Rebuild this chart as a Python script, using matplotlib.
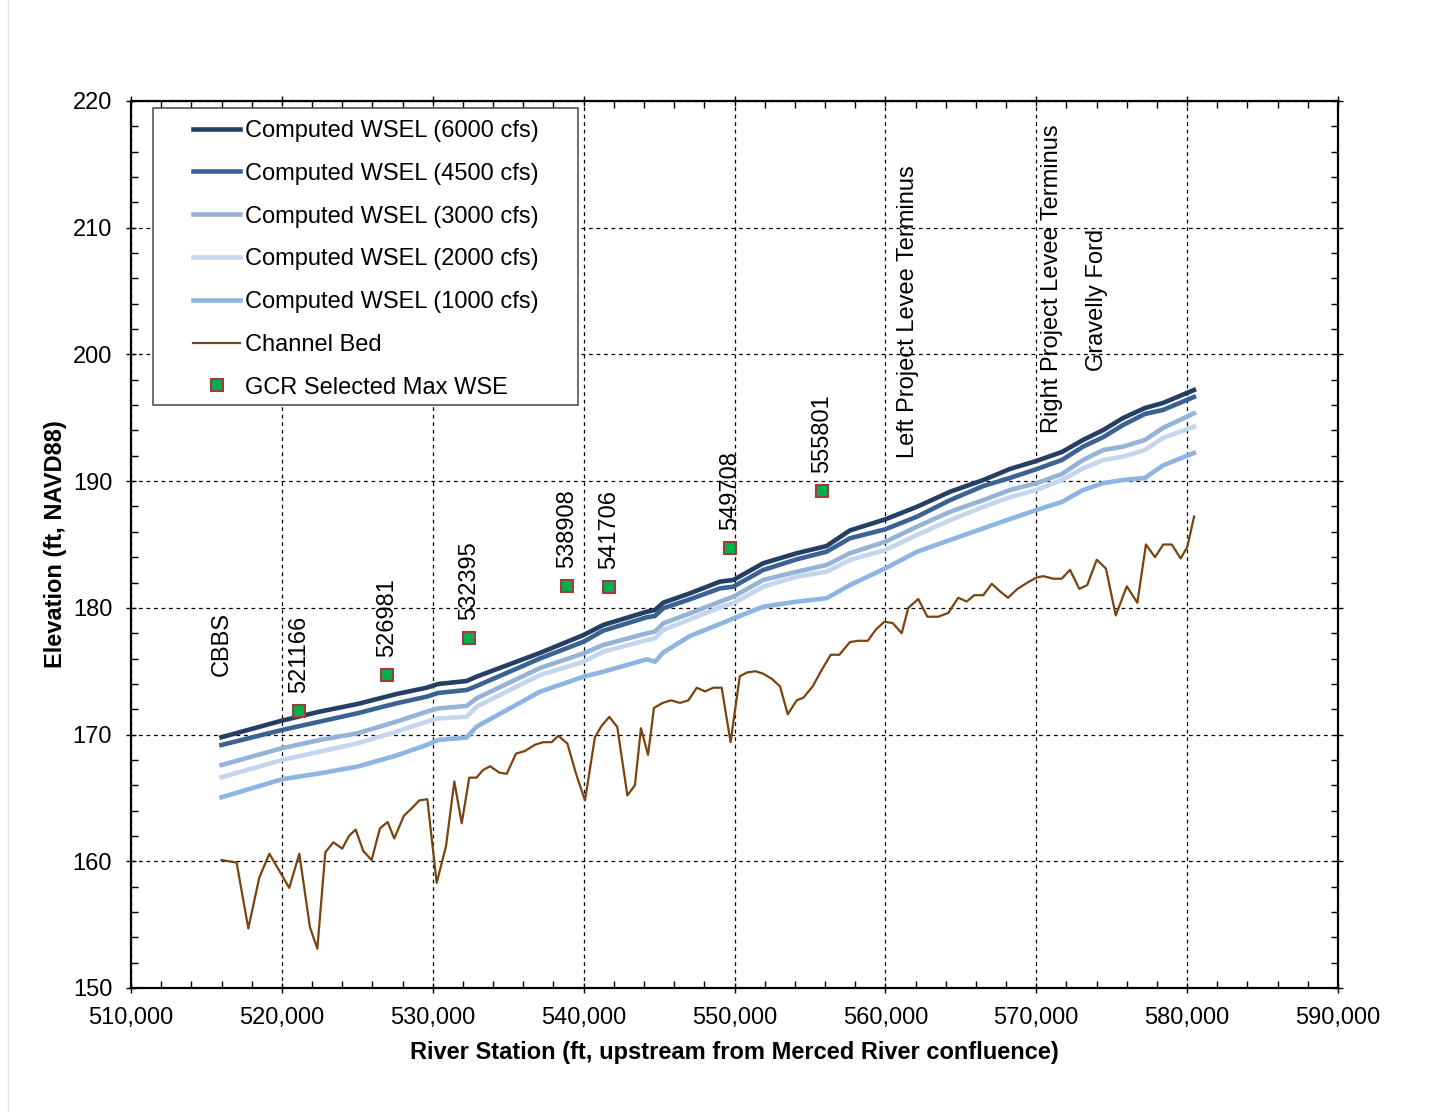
import numpy as np
import matplotlib.pyplot as plt
from matplotlib.ticker import MultipleLocator, FuncFormatter
from matplotlib.patches import Rectangle
from matplotlib.lines import Line2D

plt.rcParams['font.family'] = ['Liberation Sans', 'DejaVu Sans']

# channel bed profile
bed_x = [516000, 517000, 517775, 518500, 519170, 520490, 521155, 521860, 522350, 522880,
         523410, 524000, 524450, 524890, 525400, 525950, 526500, 527010, 527450, 528090,
         528620, 529110, 529640, 530260, 530880, 531430, 531920, 532420, 532900, 533330,
         533800, 534410, 534900, 535520, 536110, 536780, 537330, 537880, 538320, 538920,
         539500, 540090, 540750, 541200, 541700, 542230, 542900, 543400, 543800, 544270,
         544660, 545240, 545790, 546390, 546940, 547500, 548050, 548600, 549150, 549740,
         550350, 550830, 551390, 551910, 552470, 553020, 553530, 554120, 554560, 555180,
         555780, 556380, 556950, 557650, 558200, 558830, 559380, 559930, 560490, 561080,
         561520, 562180, 562780, 563510, 564170, 564830, 565390, 565890, 566490, 567050,
         567600, 568130, 568760, 569420, 570030, 570470, 571130, 571690, 572240, 572850,
         573380, 574010, 574620, 575270, 576000, 576700, 577270, 577870, 578420, 578980,
         579570, 580010, 580460]
bed_y = [160.1, 159.9, 154.7, 158.7, 160.6, 157.9, 160.6, 154.8, 153.1, 160.7,
         161.5, 161.0, 162.0, 162.5, 160.8, 160.1, 162.6, 163.1, 161.8, 163.6,
         164.2, 164.8, 164.9, 158.3, 161.2, 166.3, 163.0, 166.6, 166.6, 167.2,
         167.5, 167.0, 166.9, 168.5, 168.7, 169.2, 169.4, 169.4, 169.9, 169.3,
         166.9, 164.8, 169.8, 170.7, 171.4, 170.6, 165.2, 166.0, 170.5, 168.4,
         172.1, 172.5, 172.7, 172.5, 172.7, 173.7, 173.4, 173.7, 173.7, 169.4,
         174.6, 174.9, 175.0, 174.8, 174.4, 173.8, 171.6, 172.7, 172.9, 173.8,
         175.1, 176.3, 176.3, 177.3, 177.4, 177.4, 178.3, 178.9, 178.8, 178.0,
         180.0, 180.7, 179.3, 179.3, 179.6, 180.8, 180.5, 181.0, 181.0, 181.9,
         181.3, 180.8, 181.5, 182.0, 182.4, 182.5, 182.3, 182.3, 183.0, 181.5,
         181.8, 183.8, 183.1, 179.4, 181.7, 180.4, 185.0, 184.0, 185.0, 185.0,
         183.9, 184.8, 187.2]

# computed water surface elevations
wsel_x = [516000, 520000, 522500, 525000, 527600, 529600, 530350, 532250, 532900, 537100,
          540000, 541300, 544200, 544730, 545280, 547050, 549040, 549920, 551900, 554120,
          556100, 557650, 560000, 562100, 564300, 566500, 568250, 570000, 571700, 573100,
          574450, 575750, 577200, 578400, 580450]
wsel_6000 = [169.79, 171.10, 171.81, 172.41, 173.20, 173.70, 173.99, 174.23, 174.57, 176.44,
             177.86, 178.65, 179.70, 179.83, 180.41, 181.15, 182.07, 182.20, 183.52, 184.31,
             184.88, 186.11, 186.99, 187.98, 189.17, 190.09, 190.96, 191.59, 192.30, 193.25,
             194.04, 194.98, 195.77, 196.17, 197.19]
wsel_4500 = [169.18, 170.36, 171.02, 171.68, 172.47, 172.99, 173.28, 173.52, 173.83, 176.00,
             177.33, 178.20, 179.26, 179.36, 179.97, 180.68, 181.54, 181.67, 182.99, 183.83,
             184.43, 185.49, 186.20, 187.20, 188.51, 189.62, 190.25, 190.94, 191.67, 192.72,
             193.48, 194.43, 195.30, 195.62, 196.64]
wsel_3000 = [167.60, 168.92, 169.57, 170.10, 171.02, 171.81, 172.06, 172.26, 172.86, 175.25,
             176.41, 177.07, 177.99, 178.12, 178.78, 179.57, 180.49, 180.88, 182.20, 182.85,
             183.38, 184.31, 185.22, 186.41, 187.59, 188.51, 189.30, 189.83, 190.56, 191.67,
             192.46, 192.72, 193.25, 194.20, 195.35]
wsel_2000 = [166.63, 167.99, 168.65, 169.31, 170.23, 171.02, 171.27, 171.41, 172.20, 174.70,
             175.75, 176.54, 177.46, 177.60, 178.25, 179.10, 180.04, 180.36, 181.67, 182.46,
             182.85, 183.78, 184.57, 185.75, 186.93, 187.98, 188.73, 189.30, 190.09, 191.01,
             191.67, 191.93, 192.46, 193.41, 194.30]
wsel_1000 = [165.05, 166.47, 166.94, 167.47, 168.35, 169.18, 169.57, 169.77, 170.62, 173.38,
             174.57, 174.96, 175.94, 175.75, 176.48, 177.78, 178.73, 179.16, 180.09, 180.49,
             180.76, 181.80, 183.12, 184.43, 185.36, 186.28, 187.01, 187.72, 188.36, 189.30,
             189.85, 190.09, 190.25, 191.24, 192.22]

# GCR selected max WSE
gcr_x = [521166, 526981, 532395, 538908, 541706, 549708, 555801]
gcr_y = [171.86, 174.70, 177.62, 181.73, 181.65, 184.72, 189.22]

# landmarks
site_names = ['CBBS', 'Left Project Levee Terminus', 'Right Project Levee Terminus', 'Gravelly Ford']
site_x = [516000, 561500, 571050, 574030]
site_y = [174.6, 191.8, 193.8, 198.7]

fs = 17
fig = plt.figure(figsize=(14.36, 11.12), dpi=100)
ax = fig.add_axes([131/1436, 1 - 988/1112, 1207/1436, 887/1112])

# faint page edge on the left
fig.add_artist(Line2D([8/1436, 8/1436], [0, 1], color='#e4e4e4', lw=1))

ax.plot(wsel_x, wsel_6000, color='#243F63', lw=3.3, label='Computed WSEL (6000 cfs)', zorder=5)
ax.plot(wsel_x, wsel_4500, color='#3A6394', lw=3.3, label='Computed WSEL (4500 cfs)', zorder=5)
ax.plot(wsel_x, wsel_3000, color='#95B3D7', lw=3.3, label='Computed WSEL (3000 cfs)', zorder=4)
ax.plot(wsel_x, wsel_2000, color='#C3D6EE', lw=3.3, label='Computed WSEL (2000 cfs)', zorder=4)
ax.plot(wsel_x, wsel_1000, color='#8DB4E2', lw=3.3, label='Computed WSEL (1000 cfs)', zorder=4)
ax.plot(bed_x, bed_y, color='#7A430F', lw=1.6, label='Channel Bed', zorder=4)
ax.plot(gcr_x, gcr_y, ls='none', marker='s', ms=9, mfc='#00B050', mec='#A03C3C', mew=1.5,
        label='GCR Selected Max WSE', zorder=6)

for x, y in zip(gcr_x, gcr_y):
    ax.annotate(str(x), (x, y), xytext=(0, 13), textcoords='offset points',
                rotation=90, ha='center', va='bottom', fontsize=fs)
for name, x, y in zip(site_names, site_x, site_y):
    ax.text(x, y, name, rotation=90, ha='center', va='bottom', fontsize=fs)

ax.set_xlim(510000, 590000)
ax.set_ylim(150, 220)
ax.xaxis.set_major_locator(MultipleLocator(10000))
ax.xaxis.set_minor_locator(MultipleLocator(2000))
ax.yaxis.set_major_locator(MultipleLocator(10))
ax.yaxis.set_minor_locator(MultipleLocator(2))
ax.xaxis.set_major_formatter(FuncFormatter(lambda v, p: f'{int(v):,}'))
ax.grid(True, which='major', color='black', ls=(0, (3, 3)), lw=0.9)
ax.tick_params(which='major', direction='inout', length=7, width=1, labelsize=fs, top=True, right=True)
ax.tick_params(axis='x', which='major', pad=10)
ax.tick_params(axis='y', which='major', pad=10)
ax.tick_params(which='minor', direction='in', length=5, width=1, top=True, right=True)
for s in ax.spines.values():
    s.set_linewidth(1.6)

ax.set_xlabel('River Station (ft, upstream from Merced River confluence)', fontsize=fs,
              fontweight='bold', labelpad=9)
ax.set_ylabel('Elevation (ft, NAVD88)', fontsize=fs, fontweight='bold', labelpad=4)

# legend frame drawn separately to get the wide side padding
ax.add_patch(Rectangle((0.0182, 0.6573), 0.3521, 0.3348, transform=ax.transAxes,
                       facecolor='white', edgecolor='#555555', lw=1.2, zorder=7))
leg = ax.legend(loc='upper left', bbox_to_anchor=(0.0514, 0.9786), fontsize=fs, frameon=False,
                handlelength=2.0, handletextpad=0.22, labelspacing=0.88, borderpad=0,
                borderaxespad=0)
leg.set_zorder(8)

fig.savefig('out.png', dpi=100)
